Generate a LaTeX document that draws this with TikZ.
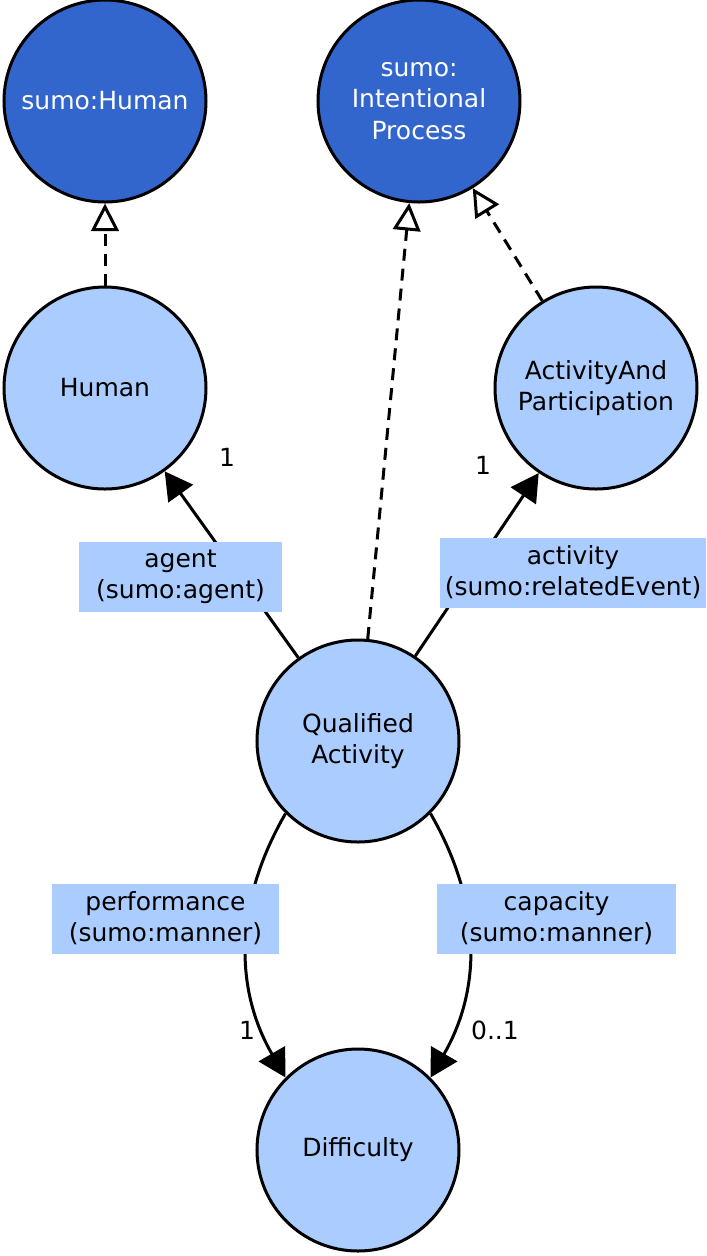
\documentclass[tikz,border=0pt]{standalone}
\usepackage{fontspec}
\setmainfont{DejaVu Sans}
\usetikzlibrary{arrows.meta, positioning}
\definecolor{sumoblue}{HTML}{3366CC}
\definecolor{classblue}{HTML}{AACCFF}

\begin{document}
\begin{tikzpicture}[x=0.4pt, y=0.4pt, every node/.style={font=\fontsize{10}{12.5}\selectfont},
    classnode/.style={circle, draw, line width=1.2pt, minimum size=80.8pt, inner sep=0pt, align=center, fill=classblue},
    sumonode/.style={classnode, fill=sumoblue, text=white},
    rolebox/.style={rectangle, fill=classblue, align=center, inner xsep=2pt, inner ysep=0pt, minimum height=28pt},
    assoc/.style={line width=1.2pt, -{Triangle[length=11pt, width=12pt]}},
    subclass/.style={line width=1.2pt, dash pattern=on 4.8pt off 3.2pt, -{Triangle[open, length=11pt, width=11pt]}}]
    \useasboundingbox (0,0) rectangle (707,-1256);

    \node (sumohuman) [sumonode] at (105,-101) {sumo:Human};
    \node (sumoprocess) [sumonode] at (419,-101) {sumo:\\Intentional\\Process};
    \node (human) [classnode] at (105,-388) {Human};
    \node (participation) [classnode] at (596,-388) {ActivityAnd\\Participation};
    \node (qualified) [classnode] at (358,-741) {Qualified\\Activity};
    \node (difficulty) [classnode] at (358,-1150) {Difficulty};

    \draw[subclass] (human) -- (sumohuman);
    \draw[subclass] (qualified) -- (sumoprocess);
    \draw[subclass] (participation) -- (sumoprocess);
    \draw[assoc] (qualified) -- (human);
    \draw[assoc] (qualified) -- (participation);
    \draw[assoc] (qualified.225) to[bend right=30] (difficulty.135);
    \draw[assoc] (qualified.315) to[bend left=30] (difficulty.45);

    \node (agentrole) [rolebox, minimum width=81.2pt] at (180.5,-577) {agent\\(sumo:agent)};
    \node (activityrole) [rolebox, minimum width=105.6pt] at (573,-572.5) {activity\\(sumo:relatedEvent)};
    \node (performancerole) [rolebox, minimum width=90.8pt] at (165.5,-918.5) {performance\\(sumo:manner)};
    \node (capacityrole) [rolebox, minimum width=95.6pt] at (556.5,-918.5) {capacity\\(sumo:manner)};

    \node (agentmult) at (227,-457) {1};
    \node (activitymult) at (483,-465) {1};
    \node (performancemult) at (247,-1030) {1};
    \node (capacitymult) at (495,-1030) {0..1};
\end{tikzpicture}
\end{document}
